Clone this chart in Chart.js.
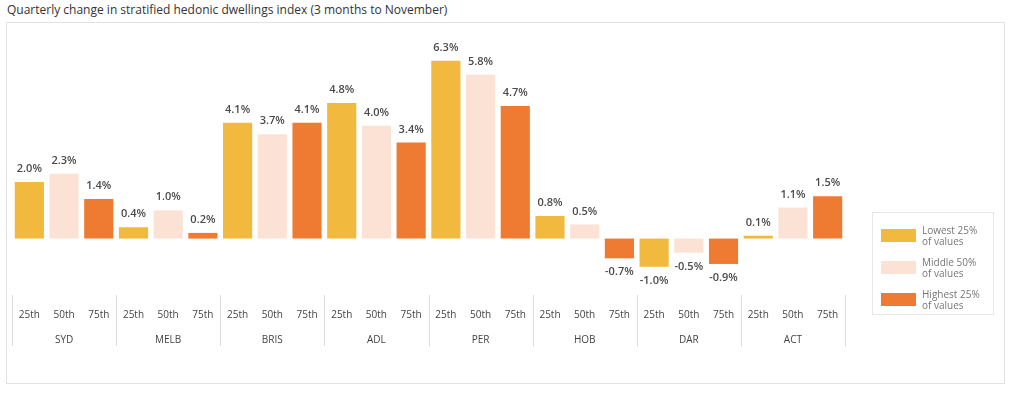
<!DOCTYPE html>
<html>
<head>
<meta charset="utf-8">
<script src="https://cdn.jsdelivr.net/npm/chart.js@4/dist/chart.umd.min.js"></script>
<style>
  body { margin: 0; background: #fff; font-family: "Open Sans", sans-serif; }
  #wrap { position: relative; width: 1024px; height: 397px; overflow: hidden; }
  #title { position: absolute; left: 7px; top: 1px; font-size: 12px; color: #333; white-space: nowrap; }
  #frame { position: absolute; left: 6px; top: 22px; width: 999px; height: 362px; border: 1px solid #e2e2e2; box-sizing: border-box; }
  #chart { position: absolute; left: 0; top: 0; }
  #legend { position: absolute; left: 872px; top: 212px; width: 122px; height: 103px; border: 1px solid #e6e6e6; box-sizing: border-box; }
  .item { position: absolute; left: 8px; font-size: 10px; line-height: 11px; color: #777; }
  .sw { position: absolute; left: 0; top: 4px; width: 35px; height: 13px; }
  .txt { position: absolute; left: 41px; top: 0; white-space: nowrap; }
</style>
</head>
<body>
<div id="wrap">
  <div id="title">Quarterly change in stratified hedonic dwellings index (3 months to November)</div>
  <div id="frame"></div>
  <canvas id="chart" width="1024" height="397"></canvas>
  <div id="legend"></div>
</div>
<script>
const cities = ['SYD', 'MELB', 'BRIS', 'ADL', 'PER', 'HOB', 'DAR', 'ACT'];
const bands = ['25th', '50th', '75th'];
const lowest25 = [2.0, 0.4, 4.1, 4.8, 6.3, 0.8, -1.0, 0.1];
const middle50 = [2.3, 1.0, 3.7, 4.0, 5.8, 0.5, -0.5, 1.1];
const highest25 = [1.4, 0.2, 4.1, 3.4, 4.7, -0.7, -0.9, 1.5];
const legendNames = [['Lowest 25%', 'of values'], ['Middle 50%', 'of values'], ['Highest 25%', 'of values']];
const colors = ['#f1b93d', '#fce2d5', '#ef7a31'];

// flatten into 24 bars, three per city
const labels = [];
const values = [];
const barColors = [];
cities.forEach((c, i) => {
  [lowest25, middle50, highest25].forEach((arr, j) => {
    labels.push([bands[j], j === 1 ? c : '']);
    values.push(arr[i]);
    barColors.push(colors[j]);
  });
});

// group separators under the axis
const separators = {
  id: 'separators',
  afterDraw(chart) {
    const x = chart.scales.x;
    const c = chart.ctx;
    const step = (x.right - x.left) / labels.length;
    c.save();
    c.strokeStyle = '#dddddd';
    c.lineWidth = 1;
    for (let i = 0; i <= labels.length; i += 3) {
      const px = Math.round(x.left + i * step) + 0.5;
      c.beginPath();
      c.moveTo(px, chart.chartArea.bottom);
      c.lineTo(px, 346);
      c.stroke();
    }
    c.restore();
  }
};

const valueLabels = {
  id: 'valueLabels',
  afterDatasetsDraw(chart) {
    const c = chart.ctx;
    const meta = chart.getDatasetMeta(0);
    c.save();
    c.font = '600 11px "Open Sans"';
    c.fillStyle = '#4a4a4a';
    c.textAlign = 'center';
    c.textBaseline = 'middle';
    meta.data.forEach((bar, i) => {
      const v = values[i];
      const y = v >= 0 ? bar.y - 13 : bar.y + 14;
      c.fillText(v.toFixed(1) + '%', bar.x, y);
    });
    c.restore();
  }
};

new Chart(document.getElementById('chart'), {
  type: 'bar',
  data: {
    labels: labels,
    datasets: [{
      data: values,
      backgroundColor: barColors,
      barPercentage: 0.84,
      categoryPercentage: 1
    }]
  },
  options: {
    responsive: false,
    animation: false,
    layout: { padding: { left: 12, right: 179, top: 41, bottom: 36 } },
    plugins: { legend: { display: false }, tooltip: { enabled: false } },
    scales: {
      y: { display: false, min: -2, max: 7 },
      x: {
        grid: { display: false, drawTicks: false },
        border: { display: false },
        ticks: {
          padding: 8,
          maxRotation: 0,
          autoSkip: false,
          color: '#444',
          font: { family: 'Open Sans', size: 10, lineHeight: 2.5 }
        }
      }
    }
  },
  plugins: [separators, valueLabels]
});

// legend box
const lg = document.getElementById('legend');
legendNames.forEach((n, i) => {
  const d = document.createElement('div');
  d.className = 'item';
  d.style.top = (12 + i * 32) + 'px';
  d.innerHTML = '<div class="sw" style="background:' + colors[i] + '"></div><div class="txt">' + n[0] + '<br>' + n[1] + '</div>';
  lg.appendChild(d);
});
</script>
</body>
</html>
